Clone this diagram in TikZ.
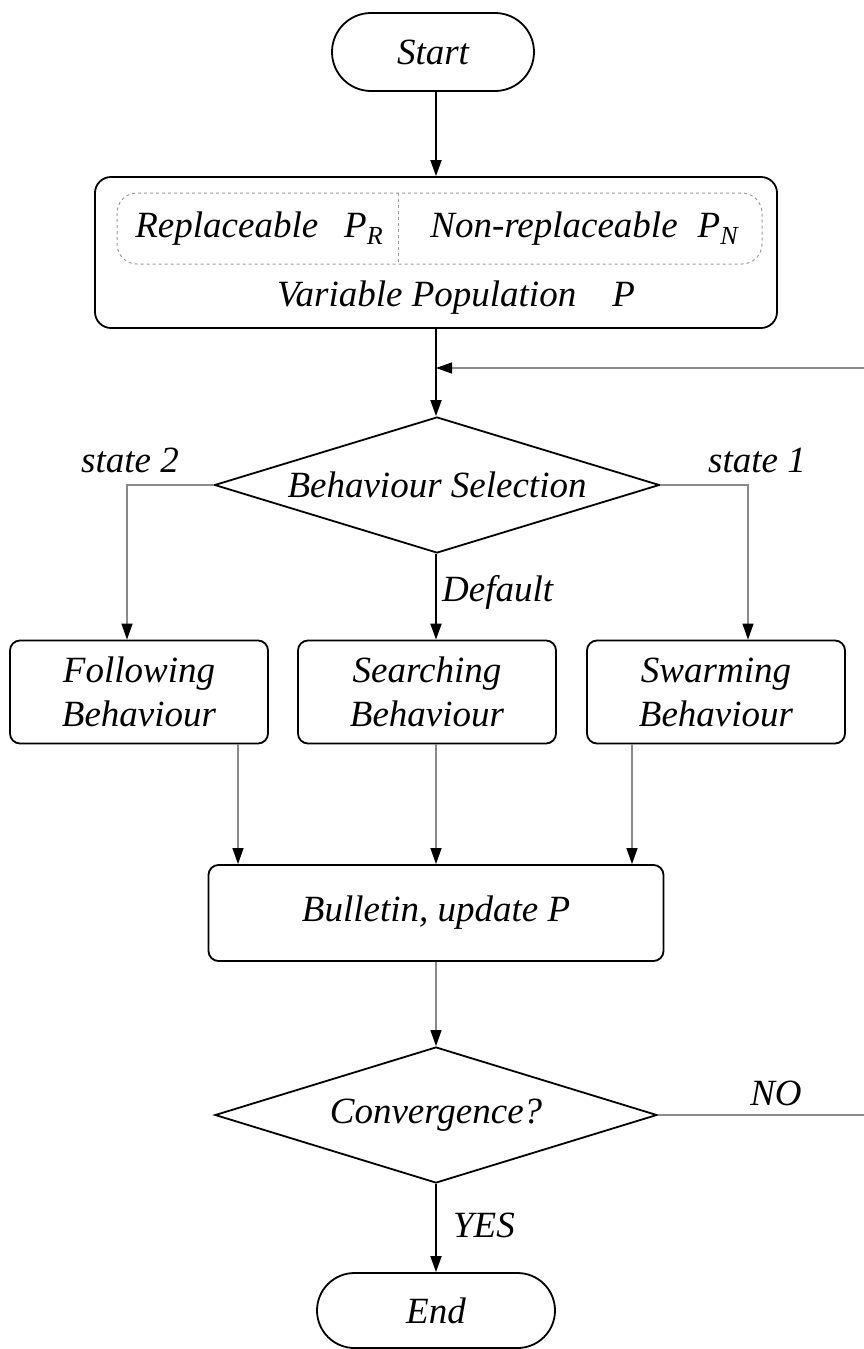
\documentclass[tikz,border=0pt]{standalone}
\usepackage{fontspec}
\setmainfont{Liberation Serif}
\usetikzlibrary{arrows.meta,shapes.geometric,shapes.misc}
\definecolor{thinln}{HTML}{8A8A8A}
\definecolor{dashln}{HTML}{9A9A9A}
\tikzset{
  txt/.style={font=\fontsize{37}{44}\selectfont\itshape, inner sep=0pt},
  tip/.style={-{Triangle[length=16pt,width=11pt,color=black]}},
  thickarrow/.style={tip, line width=2pt, draw=black},
  thinarrow/.style={tip, line width=1.2pt, draw=thinln},
  stadium/.style={rounded rectangle, draw, line width=1.8pt, txt},
  procbox/.style={rectangle, rounded corners=10pt, draw, line width=1.8pt, txt, align=center, minimum width=258pt, minimum height=103pt},
  decision/.style={diamond, draw, line width=1.8pt, txt, inner sep=0pt},
}
\begin{document}
\begin{tikzpicture}[x=1pt,y=-1pt]
\useasboundingbox (0,0) rectangle (864,1349);
\clip (0,0) rectangle (864,1349);
% Start
\node[stadium, minimum width=202pt, minimum height=78pt] (start) at (433,52) {Start};
% population box
\node[draw, line width=1.8pt, rounded corners=16pt, minimum width=682pt, minimum height=151pt, inner sep=0pt] (pop) at (436,252.5) {};
\draw[dashln, dashed, line width=1pt, rounded corners=20pt] (117,193) rectangle (762,264);
\draw[dashln, dashed, line width=1pt] (398,193) -- (398,264);
\node[txt] (repl) at (259,229) {Replaceable\hspace{26pt}\textit{P}\raisebox{-7pt}{\fontsize{26}{26}\selectfont R}};
\node[txt] (nonrepl) at (584,229) {Non-replaceable\hspace{20pt}\textit{P}\raisebox{-7pt}{\fontsize{26}{26}\selectfont N}};
\node[txt] (varpop) at (456,298) {Variable Population\hspace{36pt}P};
% Behaviour selection
\node[decision, minimum width=445pt, minimum height=136pt, shape aspect=3.27] (bs) at (437,485) {Behaviour Selection};
\node[txt] (st2) at (130,460) {state 2};
\node[txt] (st1) at (757,460) {state 1};
% behaviour boxes
\node[procbox] (foll) at (139,692) {Following\\Behaviour};
\node[procbox] (search) at (427,692) {Searching\\Behaviour};
\node[procbox] (swarm) at (716,692) {Swarming\\Behaviour};
\node[txt, anchor=west] (deflt) at (442,592) {Default};
% bulletin
\node[rectangle, rounded corners=10pt, draw, line width=1.8pt, txt, minimum width=455pt, minimum height=96pt] (bul) at (436,913) {Bulletin, update P};
% convergence
\node[decision, minimum width=442pt, minimum height=136pt, shape aspect=3.25] (conv) at (436,1115) {Convergence?};
\node[txt] (no) at (776,1093) {NO};
\node[txt] (yes) at (484,1225) {YES};
% End
\node[stadium, minimum width=238pt, minimum height=75pt] (endn) at (436,1310.5) {End};
% connectors
\draw[thickarrow] (start.south -| pop.north) -- (pop.north);
\draw[thickarrow] (pop.south) -- (pop.south |- bs.north);
\coordinate (fbin) at (436,368);
\coordinate (farR) at (900,1115);
\draw[thinarrow] (conv.east) -- (farR) |- (fbin);
\draw[thinarrow] (bs.west) -| ([xshift=-12pt]foll.north);
\draw[thinarrow] (bs.east) -| ([xshift=32pt]swarm.north);
\draw[thickarrow] (bs.south -| pop.south) -- (pop.south |- search.north);
\draw[thinarrow] ([xshift=99pt]foll.south) -- ([xshift=99pt]foll.south |- bul.north);
\draw[thinarrow] (bul.north |- search.south) -- (bul.north);
\draw[thinarrow] ([xshift=-84pt]swarm.south) -- ([xshift=-84pt]swarm.south |- bul.north);
\draw[thinarrow] (bul.south) -- (conv.north);
\draw[thickarrow] (conv.south) -- (endn.north);
\end{tikzpicture}
\end{document}
